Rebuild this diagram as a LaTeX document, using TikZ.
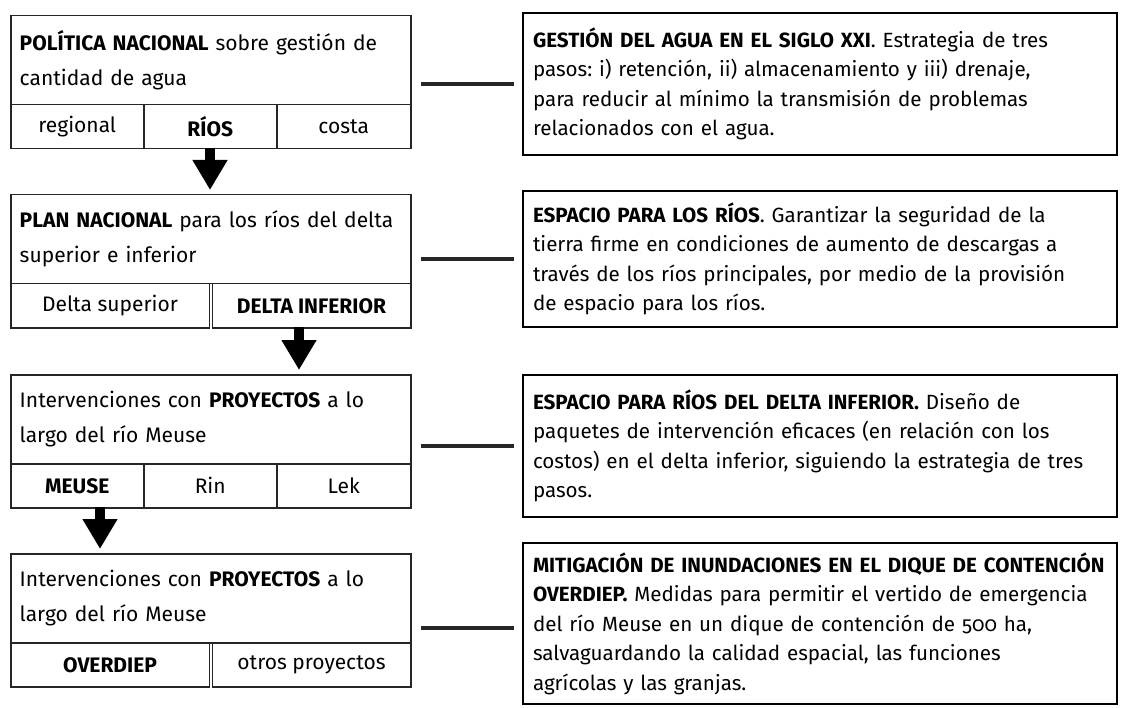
\documentclass[tikz,border=0pt]{standalone}
\usepackage{fontspec}
\setmainfont{Fira Sans}[Numbers=OldStyle]
\usetikzlibrary{arrows.meta,calc}
\begin{document}
\frenchspacing
\begin{tikzpicture}[x=1pt,y=-1pt,
  lbox/.style={draw=black!85, line width=1.5pt, inner sep=0pt},
  ltext/.style={lbox, anchor=north west, minimum height=89pt, text width=382pt, align=left, inner xsep=9pt, font=\fontsize{21}{35}\selectfont},
  cell/.style={lbox, anchor=north west, minimum height=44pt, align=center, font=\fontsize{21}{24}\selectfont},
  rbox/.style={draw=black, line width=2pt, anchor=north west, text width=574pt, inner xsep=10pt, inner ysep=0pt, align=left, font=\fontsize{20.6}{29.5}\selectfont},
  link/.style={draw=black!85, line width=4pt, shorten <=9pt, shorten >=8pt},
  bigarrow/.style={draw=black, line width=10pt, -{Triangle[length=30pt,width=33pt]}}
]
\fill[white] (0,0) rectangle (1126,708);
\useasboundingbox (0,0) rectangle (1126,708);

% left column
\node[ltext] (b1) at (10,15) {\textbf{POLÍTICA NACIONAL} sobre gestión de\\cantidad de agua};
\node[cell, minimum width=133pt] (c11) at (10,104) {regional};
\node[cell, minimum width=133pt] (c12) at (143,104) {\textbf{RÍOS}};
\node[cell, minimum width=134pt] (c13) at (276,104) {costa};

\node[ltext] (b2) at (10,194) {\textbf{PLAN NACIONAL} para los ríos del delta\\superior e inferior};
\node[cell, minimum width=198.5pt] (c21) at (10,283) {Delta superior};
\node[cell, minimum width=198.5pt] (c22) at (211.5,283) {\textbf{DELTA INFERIOR}};

\node[ltext] (b3) at (10,374) {Intervenciones con \textbf{PROYECTOS} a lo\\largo del río Meuse};
\node[cell, minimum width=133pt] (c31) at (10,463) {\textbf{MEUSE}};
\node[cell, minimum width=133pt] (c32) at (143,463) {Rin};
\node[cell, minimum width=134pt] (c33) at (276,463) {Lek};

\node[ltext] (b4) at (10,553) {Intervenciones con \textbf{PROYECTOS} a lo\\largo del río Meuse};
\node[cell, minimum width=198.5pt] (c41) at (10,642) {\textbf{OVERDIEP}};
\node[cell, minimum width=198.5pt] (c42) at (211.5,642) {otros proyectos};

% arrows
\coordinate (a1s) at (210,148);
\coordinate (a2s) at (299,327);
\coordinate (a3s) at (100,507);
\draw[bigarrow] (a1s) -- ([yshift=4pt]b2.north -| a1s);
\draw[bigarrow] (a2s) -- ([yshift=4pt]b3.north -| a2s);
\draw[bigarrow] (a3s) -- ([yshift=4pt]b4.north -| a3s);

% right column
\node[rbox, minimum height=142pt] (r1) at (522,12) {\textbf{GESTIÓN DEL AGUA EN EL SIGLO XXI}. Estrategia de tres\\pasos: i) retención, ii) almacenamiento y iii) drenaje,\\para reducir al mínimo la transmisión de problemas\\relacionados con el agua.};
\node[rbox, minimum height=136pt] (r2) at (522,190) {\textbf{ESPACIO PARA LOS RÍOS}. Garantizar la seguridad de la\\tierra firme en condiciones de aumento de descargas a\\través de los ríos principales, por medio de la provisión\\de espacio para los ríos.};
\node[rbox, minimum height=142pt] (r3) at (522,374) {\textbf{ESPACIO PARA RÍOS DEL DELTA INFERIOR.} Diseño de\\paquetes de intervención eficaces (en relación con los\\costos) en el delta inferior, siguiendo la estrategia de tres\\pasos.};
\node[rbox, minimum height=161pt] (r4) at (522,542) {\textbf{MITIGACIÓN DE INUNDACIONES EN EL DIQUE DE CONTENCIÓN}\\\textbf{OVERDIEP.} Medidas para permitir el vertido de emergencia\\del río Meuse en un dique de contención de 500 ha,\\salvaguardando la calidad espacial, las funciones\\agrícolas y las granjas.};

% connectors
\draw[link] (b1.east |- r1.west) -- (r1.west);
\draw[link] (b2.east |- r2.west) -- (r2.west);
\draw[link] (b3.east |- r3.west) -- (r3.west);
\draw[link] ([yshift=-4pt]b4.east |- r4.west) -- ([yshift=-4pt]r4.west);
\end{tikzpicture}
\end{document}
